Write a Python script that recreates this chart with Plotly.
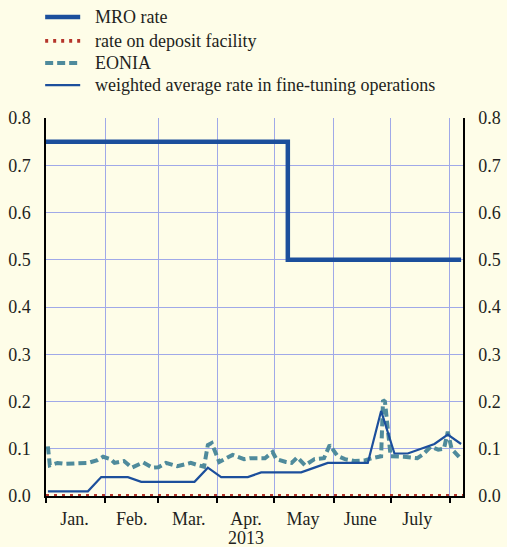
import pandas as pd
import plotly.graph_objects as go

# ---- data ----
mro_dates = ["2013-01-01", "2013-05-08", "2013-08-07"]
mro_values = [0.75, 0.50, 0.50]

deposit_dates = ["2013-01-01", "2013-08-08"]
deposit_values = [0.0, 0.0]

ft_dates = list(pd.date_range("2013-01-02", periods=32, freq="7D"))
ft_values = [0.01, 0.01, 0.01, 0.01, 0.04,
             0.04, 0.04, 0.03, 0.03,
             0.03, 0.03, 0.03, 0.06,
             0.04, 0.04, 0.04, 0.05,
             0.05, 0.05, 0.05, 0.06, 0.07,
             0.07, 0.07, 0.07, 0.18,
             0.09, 0.09, 0.10, 0.11, 0.13,
             0.11]

eonia_dates = ["2013-01-02", "2013-01-03", "2013-01-07", "2013-01-11", "2013-01-16",
               "2013-01-23", "2013-01-28", "2013-01-31", "2013-02-04", "2013-02-06",
               "2013-02-11", "2013-02-15", "2013-02-21", "2013-02-26", "2013-03-01",
               "2013-03-05", "2013-03-11", "2013-03-18", "2013-03-22", "2013-03-25",
               "2013-03-27", "2013-03-29", "2013-04-02", "2013-04-05", "2013-04-09",
               "2013-04-15", "2013-04-18", "2013-04-22", "2013-04-26", "2013-04-30",
               "2013-05-02", "2013-05-07", "2013-05-10", "2013-05-13", "2013-05-17",
               "2013-05-22", "2013-05-27", "2013-05-30", "2013-06-03", "2013-06-07",
               "2013-06-12", "2013-06-17", "2013-06-21", "2013-06-26", "2013-06-27",
               "2013-06-28", "2013-07-01", "2013-07-08", "2013-07-15", "2013-07-18",
               "2013-07-22", "2013-07-26", "2013-07-29", "2013-07-31", "2013-08-02",
               "2013-08-07"]
eonia_values = [0.105, 0.065, 0.070, 0.068, 0.069,
                0.070, 0.076, 0.083, 0.078, 0.070,
                0.074, 0.060, 0.071, 0.060, 0.061,
                0.070, 0.063, 0.070, 0.065, 0.062,
                0.108, 0.112, 0.072, 0.078, 0.087,
                0.078, 0.080, 0.080, 0.080, 0.093,
                0.078, 0.072, 0.070, 0.082, 0.065,
                0.078, 0.080, 0.108, 0.085, 0.078,
                0.074, 0.075, 0.080, 0.084, 0.203,
                0.200, 0.084, 0.083, 0.080, 0.088,
                0.104, 0.098, 0.100, 0.136, 0.100,
                0.078]

month_label_dates = ["2013-01-16", "2013-02-15", "2013-03-17", "2013-04-16",
                     "2013-05-16", "2013-06-15", "2013-07-15"]
month_labels = ["Jan.", "Feb.", "Mar.", "Apr.", "May", "June", "July"]
year_label = "2013"
year_label_date = "2013-04-16"

y_ticks = [0.0, 0.1, 0.2, 0.3, 0.4, 0.5, 0.6, 0.7, 0.8]

series_names = ["MRO rate", "rate on deposit facility", "EONIA",
                "weighted average rate in fine-tuning operations"]

# ---- style ----
BLUE = "#1C4F9C"
TEAL = "#4F8B9C"
RED = "#B5352B"
GRID = "#A0A9E8"
BG = "#FEFDE8"
TXT = "#231F20"
FONT = "'Liberation Serif', 'Times New Roman', Times, serif"

styles = [dict(color=BLUE, width=4.5),
          dict(color=RED, width=3.8, dash="3px,5px"),
          dict(color=TEAL, width=4, dash="8px,4px"),
          dict(color=BLUE, width=2.2)]

fig = go.Figure()
fig.add_trace(go.Scatter(x=mro_dates, y=mro_values, mode="lines", name=series_names[0],
                         line=dict(shape="hv", **styles[0])))
fig.add_trace(go.Scatter(x=deposit_dates, y=deposit_values, mode="lines",
                         name=series_names[1], cliponaxis=False, line=styles[1]))
fig.add_trace(go.Scatter(x=eonia_dates, y=eonia_values, mode="lines",
                         name=series_names[2], line=styles[2]))
fig.add_trace(go.Scatter(x=ft_dates, y=ft_values, mode="lines",
                         name=series_names[3], line=styles[3]))
# invisible trace for right-hand axis
fig.add_trace(go.Scatter(x=mro_dates, y=mro_values, yaxis="y2", mode="lines",
                         line=dict(width=0), showlegend=False, hoverinfo="skip"))

# legend block drawn above the plot (paper coordinates)
legend_rows_y = [1.267, 1.204, 1.1455, 1.087]
for name, st, ly in zip(series_names, styles, legend_rows_y):
    fig.add_shape(type="line", xref="paper", yref="paper",
                  x0=-0.002, x1=0.082, y0=ly, y1=ly, line=st)
    fig.add_annotation(x=0.1127, y=ly, xref="paper", yref="paper", text=name,
                       showarrow=False, xanchor="left", yanchor="middle",
                       font=dict(size=18, color=TXT, family=FONT))

fig.add_annotation(x=year_label_date, y=-0.111, xref="x", yref="paper",
                   text=year_label, showarrow=False, yanchor="middle",
                   font=dict(size=18, color=TXT, family=FONT))

fig.update_layout(
    width=507, height=547,
    margin=dict(l=46, r=44, t=118, b=51, autoexpand=False),
    paper_bgcolor=BG, plot_bgcolor=BG,
    font=dict(family=FONT, size=18, color=TXT),
    showlegend=False,
    xaxis=dict(
        type="date", range=["2013-01-01", "2013-08-08"], automargin=False,
        tickmode="array", tickvals=month_label_dates, ticktext=month_labels,
        ticks="", showgrid=False, zeroline=False, ticklabelstandoff=6,
        showline=True, linecolor="black", linewidth=1.5,
        minor=dict(dtick="M1", tick0="2013-01-01", showgrid=True, gridcolor=GRID,
                   gridwidth=1, ticks="outside", ticklen=5, tickcolor="black",
                   tickwidth=1.5),
    ),
    yaxis=dict(
        range=[0, 0.8], tickvals=y_ticks, tickformat=".1f", automargin=False,
        showgrid=True, gridcolor=GRID, gridwidth=1, zeroline=False,
        showline=True, linecolor="black", linewidth=1.5, ticks="",
        ticklabelstandoff=10,
    ),
    yaxis2=dict(
        range=[0, 0.8], tickvals=y_ticks, tickformat=".1f", overlaying="y",
        side="right", showgrid=False, zeroline=False, automargin=False,
        showline=True, linecolor="black", linewidth=1.5, ticks="",
        ticklabelstandoff=10,
    ),
)

fig.write_html(
    "out.html",
    config={"displayModeBar": False},
    post_script="document.body.style.margin='0px';"
                "document.body.style.background='#FEFDE8';",
)
